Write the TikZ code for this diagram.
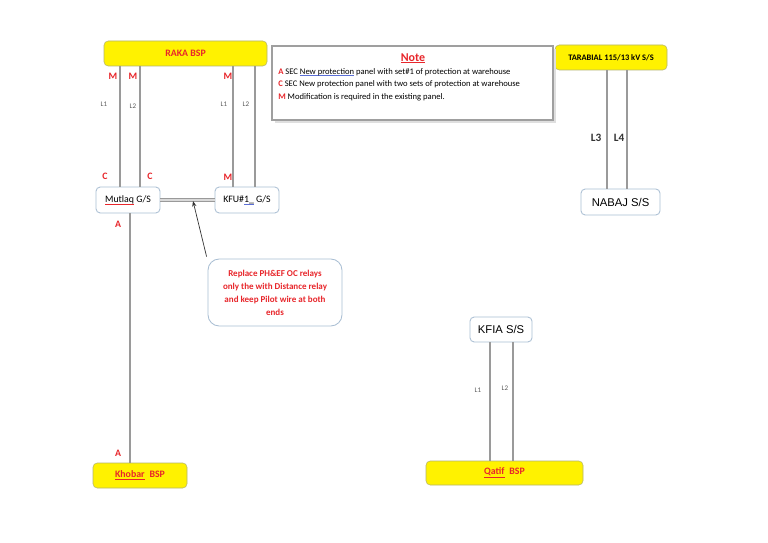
\documentclass[tikz,border=0pt]{standalone}
\usepackage{fontspec}
\setmainfont{Carlito}
\newfontfamily\arialfont{Liberation Sans}
\usetikzlibrary{arrows.meta,positioning}
\definecolor{MarkRed}{HTML}{E8262B}
\definecolor{WireGray}{HTML}{9A9A9A}
\definecolor{BoxEdge}{HTML}{A9BED3}
\definecolor{BspEdge}{HTML}{B5B56E}
\definecolor{LinkBlue}{HTML}{5B6FD6}
\def\pxu{0.025cm}
\newsavebox\ulbox
\newcommand\bluline[1]{\sbox\ulbox{#1}\rlap{\color{LinkBlue}\rule[-1.1pt]{\wd\ulbox}{0.4pt}}\usebox\ulbox}
\newcommand\redline[1]{\sbox\ulbox{#1}\rlap{\color{MarkRed}\rule[-1.1pt]{\wd\ulbox}{0.4pt}}\usebox\ulbox}

\begin{document}
\begin{tikzpicture}[x=0.025cm, y=-0.025cm,
  bspbox/.style={draw=BspEdge, fill=yellow, rounded corners=3pt, inner sep=0pt, text=MarkRed, font=\fontsize{7}{8}\selectfont\bfseries},
  ssbox/.style={draw=BoxEdge, fill=white, line width=0.6pt, rounded corners=3pt, inner sep=0pt, font=\fontsize{7}{8}\selectfont},
  notetxt/.style={anchor=west, inner sep=0pt, font=\fontsize{6.1}{7}\selectfont},
  wire/.style={draw=WireGray, line width=0.8pt},
  marklbl/.style={inner sep=0pt, text=MarkRed, font=\fontsize{7}{8}\selectfont\bfseries},
  linelbl/.style={inner sep=0pt, text=black!65, font=\fontsize{5}{6}\selectfont}
]
\fill[white] (0,0) rectangle (768,543);
\useasboundingbox (0,0) rectangle (768,543);

% top row
\node[bspbox, minimum width={163*\pxu}, minimum height={25*\pxu}] (raka) at (185.5,53.5) {RAKA BSP};
\node[bspbox, text=black, font=\fontsize{6}{7}\selectfont\bfseries, minimum width={112*\pxu}, minimum height={25*\pxu}] (tarabial) at (611,57.5) {TARABIAL 115/13 kV S/S};

% note
\fill[gray!25] (275,49) rectangle (556,123);
\node[draw=gray!75, line width=0.8pt, fill=white, inner sep=0pt, minimum width={281*\pxu}, minimum height={74*\pxu}] (note) at (412.5,83) {};
\node[inner sep=0pt, text=MarkRed, font=\fontsize{8.5}{10}\selectfont\bfseries] (notetitle) at (413,58) {\redline{Note}};
\node[notetxt] (noteA) at (278,72) {{\color{MarkRed}\bfseries A} SEC \bluline{New protection} panel with set\#1 of protection at warehouse};
\node[notetxt] (noteC) at (278,84) {{\color{MarkRed}\bfseries C} SEC New protection panel with two sets of protection at warehouse};
\node[notetxt] (noteM) at (278,97) {{\color{MarkRed}\bfseries M} Modification is required in the existing panel.};

% stations
\node[ssbox, minimum width={64*\pxu}, minimum height={26*\pxu}] (mutlaq) at (128,200) {\redline{Mutlaq} G/S};
\node[ssbox, minimum width={64*\pxu}, minimum height={26*\pxu}] (kfu) at (247,200) {KFU\#\bluline{1\_} G/S};
\node[ssbox, font=\fontsize{8}{9}\selectfont\arialfont, minimum width={79*\pxu}, minimum height={26*\pxu}] (nabaj) at (620.5,202) {NABAJ S/S};
\node[ssbox, font=\fontsize{8}{9}\selectfont\arialfont, minimum width={62*\pxu}, minimum height={25*\pxu}] (kfia) at (501,329.5) {KFIA S/S};
\node[ssbox, rounded corners=8pt, align=center, text=MarkRed, font=\fontsize{6.4}{9.2}\selectfont\bfseries, minimum width={134*\pxu}, minimum height={67*\pxu}] (callout) at (275,292.5) {Replace PH\&EF OC relays\\only the with Distance relay\\and keep Pilot wire at both\\ends};

% bottom row
\node[bspbox, minimum width={94*\pxu}, minimum height={25*\pxu}] (khobar) at (140,475.5) {\underline{Khobar}\enspace BSP};
\node[bspbox, minimum width={157*\pxu}, minimum height={24*\pxu}] (qatif) at (504.5,473) {\underline{Qatif}\enspace BSP};

% feeders
\draw[wire] (raka.south -| 120,0) -- (mutlaq.north -| 120,0);
\draw[wire] (raka.south -| 140,0) -- (mutlaq.north -| 140,0);
\draw[wire] (raka.south -| 233,0) -- (kfu.north -| 233,0);
\draw[wire] (raka.south -| 255,0) -- (kfu.north -| 255,0);
\draw[wire] (mutlaq.south -| 130,0) -- (khobar.north -| 130,0);
\draw[wire] (tarabial.south -| 607,0) -- (nabaj.north -| 607,0);
\draw[wire] (tarabial.south -| 627,0) -- (nabaj.north -| 627,0);
\draw[wire] (kfia.south -| 490,0) -- (qatif.north -| 490,0);
\draw[wire] (kfia.south -| 513,0) -- (qatif.north -| 513,0);
\draw[draw=WireGray, line width=0.6pt, double=gray!30, double distance=1.2pt] (mutlaq) -- (kfu);

% callout arrow
\coordinate (tap) at (193,201);
\draw[-{Stealth[length=4pt,width=3pt]}, black!80, line width=0.5pt] ([shift={(-1,-2)}]callout.north west) -- (tap);

% panel marks
\node[marklbl] (m1) at (113,76) {M};
\node[marklbl] (m2) at (133,76) {M};
\node[marklbl] (m3) at (228,76) {M};
\node[marklbl] (c1) at (105,176) {C};
\node[marklbl] (c2) at (150,176) {C};
\node[marklbl] (m4) at (228,177) {M};
\node[marklbl] (a1) at (118,224) {A};
\node[marklbl] (a2) at (118,453) {A};

% line names
\node[linelbl] (l1a) at (104,104) {L1};
\node[linelbl] (l2a) at (133,106) {L2};
\node[linelbl] (l1b) at (224,104) {L1};
\node[linelbl] (l2b) at (246,104) {L2};
\node[linelbl] (l1c) at (478,390) {L1};
\node[linelbl] (l2c) at (505,388) {L2};
\node[inner sep=0pt, text=black!80, font=\fontsize{8}{9}\selectfont\bfseries] (l3) at (596,138) {L3};
\node[inner sep=0pt, text=black!80, font=\fontsize{8}{9}\selectfont\bfseries] (l4) at (619,138) {L4};
\end{tikzpicture}
\end{document}
